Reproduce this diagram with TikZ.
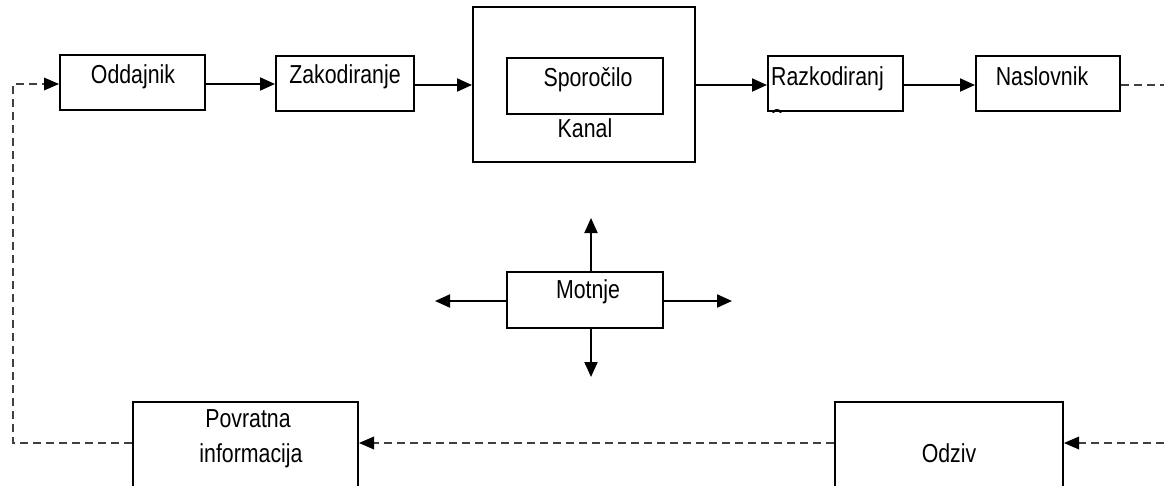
\documentclass[tikz,border=0pt]{standalone}
\usepackage{fontspec}
\setmainfont{Liberation Sans}[FakeStretch=0.82]
\usetikzlibrary{arrows.meta,calc}
\begin{document}
\begin{tikzpicture}[x=1pt,y=-1pt,
  box/.style={draw,line width=2pt,inner sep=0pt},
  txt/.style={inner sep=0pt,anchor=base,font=\fontsize{26}{30}\selectfont},
  conn/.style={line width=2pt,-{Triangle[length=15pt,width=13pt]}},
  dconn/.style={line width=1.8pt,draw=black!75,dash pattern=on 8pt off 5pt}]
\useasboundingbox (0,0) rectangle (1164,485);
\clip (0,0) rectangle (1164,485);
% boxes
\node[box,minimum width=145pt,minimum height=55pt] (odd) at (132.5,82.5) {};
\node[box,minimum width=138pt,minimum height=55pt] (zak) at (345,83.5) {};
\node[box,minimum width=222pt,minimum height=155pt] (kan) at (584,84.5) {};
\node[box,minimum width=156pt,minimum height=56pt] (spo) at (585,86) {};
\node[box,minimum width=135pt,minimum height=55pt] (raz) at (835.5,83.5) {};
\node[box,minimum width=144pt,minimum height=55pt] (nas) at (1048,83.5) {};
\node[box,minimum width=156pt,minimum height=56pt] (mot) at (585,300) {};
\node[box,minimum width=225pt,minimum height=110pt] (pov) at (245.5,457) {};
\node[box,minimum width=228pt,minimum height=110pt] (odz) at (949,457) {};
% texts
\node[txt] (todd) at (133,83) {Oddajnik};
\node[txt] (tzak) at (345,83) {Zakodiranje};
\node[txt] (tspo) at (588,86) {Sporočilo};
\node[txt] (tkan) at (585,137) {Kanal};
\begin{scope}
\clip (raz.north west) rectangle (raz.south east);
\node[txt,anchor=base west] (traz) at (771,85) {Razkodiranj};
\node[txt,anchor=base west] (traz2) at (771,123) {e};
\end{scope}
\node[txt] (tnas) at (1042,85) {Naslovnik};
\node[txt] (tmot) at (588,298) {Motnje};
\node[txt] (tpov) at (248,427) {Povratna};
\node[txt] (tinf) at (251,462) {informacija};
\node[txt] (todz) at (949,462) {Odziv};
% top chain
\draw[conn] (odd.east |- 0,84) -- (zak.west |- 0,84);
\draw[conn] (zak.east |- 0,85) -- (kan.west |- 0,85);
\draw[conn] (kan.east |- 0,85) -- (raz.west |- 0,85);
\draw[conn] (raz.east |- 0,85) -- (nas.west |- 0,85);
% motnje arrows
\coordinate (mu) at (591,218);
\coordinate (md) at (591,377);
\coordinate (ml) at (435,301);
\coordinate (mr) at (732,301);
\draw[conn] (mot.north -| mu) -- (mu);
\draw[conn] (mot.south -| md) -- (md);
\draw[conn] (mot.west |- ml) -- (ml);
\draw[conn] (mot.east |- mr) -- (mr);
% feedback loop
\coordinate (c1) at (13,443);
\coordinate (c2) at (13,84);
\coordinate (r1) at (1164,443);
\coordinate (r2) at (1164,85);
\draw[dconn] (pov.west |- c1) -- (c1) -- (c2) -- ($(odd.west |- c2)+(-15,0)$);
\draw[dconn] (nas.east |- r2) -- (r2);
\draw[dconn] (r1) -- ($(odz.east |- r1)+(15,0)$);
\draw[dconn] (odz.west |- r1) -- ($(pov.east |- r1)+(15,0)$);
\fill ($(odd.west |- c2)+(-15,-6.5)$) -- (odd.west |- c2) -- ($(odd.west |- c2)+(-15,6.5)$) -- cycle;
\fill ($(odz.east |- r1)+(15,-6.5)$) -- (odz.east |- r1) -- ($(odz.east |- r1)+(15,6.5)$) -- cycle;
\fill ($(pov.east |- r1)+(15,-6.5)$) -- (pov.east |- r1) -- ($(pov.east |- r1)+(15,6.5)$) -- cycle;
\end{tikzpicture}
\end{document}
